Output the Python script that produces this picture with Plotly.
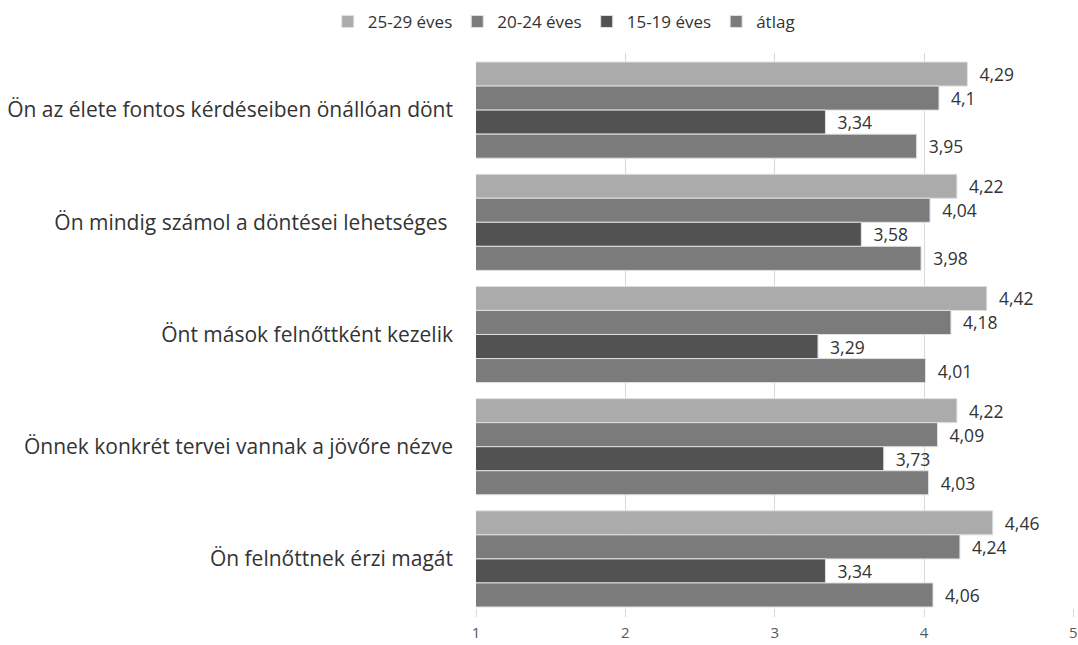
import plotly.graph_objects as go

categories = [
    "Ön az élete fontos kérdéseiben önállóan dönt",
    "Ön mindig számol a döntései lehetséges ",
    "Önt mások felnőttként kezelik",
    "Önnek konkrét tervei vannak a jövőre nézve",
    "Ön felnőttnek érzi magát",
]
series_names = ["25-29 éves", "20-24 éves", "15-19 éves", "átlag"]
v_25_29 = [4.29, 4.22, 4.42, 4.22, 4.46]
v_20_24 = [4.1, 4.04, 4.18, 4.09, 4.24]
v_15_19 = [3.34, 3.58, 3.29, 3.73, 3.34]
v_atlag = [3.95, 3.98, 4.01, 4.03, 4.06]
colors = ["#ababab", "#7b7b7b", "#525252", "#7b7b7b"]
x_ticks = [1, 2, 3, 4, 5]

FONT = "Open Sans"
TXT = "#333333"

fig = go.Figure()
for name, vals, col in zip(series_names, [v_25_29, v_20_24, v_15_19, v_atlag], colors):
    fig.add_trace(go.Bar(
        y=categories, x=vals, name=name, orientation="h",
        marker=dict(color=col, line=dict(color="#e0e0e0", width=1)),
        text=["\u00a0\u00a0" + str(v).replace(".", ",") for v in vals],
        textposition="outside",
        textfont=dict(family=FONT, size=17.5, color=TXT),
        cliponaxis=False,
    ))

fig.update_layout(
    width=1078, height=645,
    paper_bgcolor="white", plot_bgcolor="white",
    barmode="group", bargap=0.143, bargroupgap=0,
    margin=dict(l=476, r=4, t=53, b=37, autoexpand=False),
    font=dict(family=FONT, color=TXT),
    legend=dict(orientation="h", xref="container", yref="container",
                x=0.523, xanchor="center", y=0.966, yanchor="middle",
                font=dict(family=FONT, size=17, color=TXT),
                itemwidth=30, traceorder="normal"),
    xaxis=dict(range=[1, 5.004], tickvals=x_ticks, showgrid=True, gridcolor="#d9d9d9",
               gridwidth=1, zeroline=False, showline=False,
               ticks="outside", ticklen=8, tickcolor="#d9d9d9",
               ticklabelstandoff=3, ticklabeloverflow="allow",
               tickfont=dict(family=FONT, size=15, color="#595959")),
    yaxis=dict(range=[4.4375, -0.509], categoryorder="array", categoryarray=categories,
               showgrid=False, zeroline=False, showline=False,
               ticklabelstandoff=22,
               tickfont=dict(family=FONT, size=21, color=TXT)),
)

fig.write_html("out.html", config={"displayModeBar": False},
               post_script="document.body.style.margin='0';document.body.style.overflow='hidden';")
